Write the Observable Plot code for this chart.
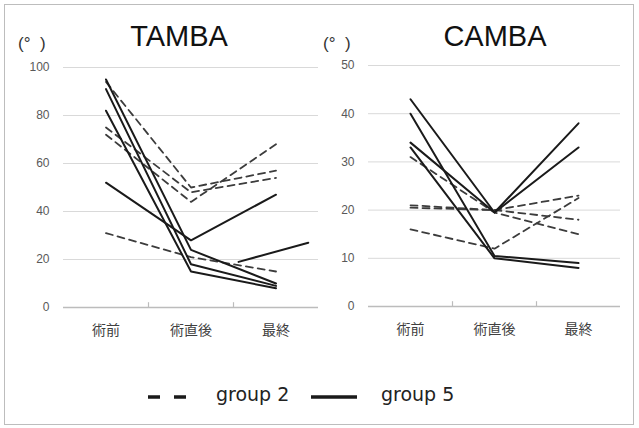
<!DOCTYPE html>
<html><head><meta charset="utf-8">
<script src="https://cdn.jsdelivr.net/npm/d3@7"></script>
<script src="https://cdn.jsdelivr.net/npm/@observablehq/plot@0.6"></script>
<style>
body{margin:0;background:#fff;}
#wrap{position:relative;width:639px;height:428px;overflow:hidden;background:#fff;font-family:"Liberation Sans",Arial,sans-serif;}
#frame{position:absolute;left:4px;top:4px;width:630px;height:421px;border:1.5px solid #bdbdbd;box-sizing:border-box;}
.panel{position:absolute;top:0;}
.title{position:absolute;top:22px;font-size:29px;line-height:29px;color:#111;transform:translateX(-50%);white-space:nowrap;}
.unit{position:absolute;top:34px;font-size:17px;line-height:20px;color:#333;white-space:pre;}
#legend{position:absolute;left:0;top:370px;}
</style></head><body>
<div id="wrap">
  <div id="frame"></div>
  <div id="left" class="panel" style="left:0px"></div>
  <div id="right" class="panel" style="left:319px"></div>
  <div class="title" style="left:179px">TAMBA</div>
  <div class="title" style="left:495px">CAMBA</div>
  <div class="unit" style="left:18px">(°  )</div>
  <div class="unit" style="left:323px">(°  )</div>
  <svg id="legend" width="639" height="50"></svg>
</div>
<script>
// ---- data ----
const stages = ["術前", "術直後", "最終"];
const tambaTicks = [0, 20, 40, 60, 80, 100];
const cambaTicks = [0, 10, 20, 30, 40, 50];
// each row: [術前, 術直後, 最終]
const tambaGroup2 = [[94, 50, 57], [75, 48, 54], [72, 44, 68], [31, 21, 15]];
const tambaGroup5 = [[95, 24, 10], [91, 18, 9], [82, 15, 8], [52, 28, 47]];
// short stray solid segment visible in the TAMBA panel (stage index, value)
const tambaStrayStage = [1.56, 2.38];
const tambaStrayValue = [19, 27];
const cambaGroup2 = [[31, 19.5, 15], [21, 20, 23], [20.5, 20, 18], [16, 12, 22.5]];
const cambaGroup5 = [[43, 19.5, 38], [34, 19.5, 33], [40, 10.5, 9], [33, 10, 8]];
const legendLabels = ["group 2", "group 5"];

function toRows(groups) {
  return groups.flatMap((vals, id) => vals.map((v, i) => ({id, stage: i, value: v})));
}

function panel({g2, g5, stray, yMax, yTicks, tickUp, mLeft, mRight, mTop, mBottom}) {
  const marks = [
    Plot.gridY(yTicks.filter(t => t > 0), {stroke: "#d9d9d9", strokeOpacity: 1, strokeWidth: 1}),
    Plot.ruleY([0], {stroke: "#bcbcbc", strokeWidth: 1.5}),
    Plot.ruleX([0.5, 1.5], {y1: 0, y2: tickUp, stroke: "#bcbcbc", strokeWidth: 1.2}),
    Plot.axisY(yTicks, {tickSize: 0, tickPadding: 14, fontSize: 12, fill: "#595959", label: null, fontFamily: "Liberation Sans, Arial, sans-serif"}),
    Plot.axisX([0, 1, 2], {tickSize: 0, tickPadding: 18, tickFormat: i => stages[i], fontSize: 14, fill: "#404040", label: null, fontFamily: "Noto Sans CJK JP, sans-serif"}),
    Plot.line(toRows(g2), {x: "stage", y: "value", z: "id", stroke: "#3c3c3c", strokeWidth: 1.8, strokeDasharray: "7,5"}),
    Plot.line(toRows(g5), {x: "stage", y: "value", z: "id", stroke: "#1a1a1a", strokeWidth: 2})
  ];
  if (stray) {
    marks.push(Plot.line(stray.stage.map((s, i) => ({stage: s, value: stray.value[i]})),
      {x: "stage", y: "value", stroke: "#1a1a1a", strokeWidth: 2}));
  }
  return Plot.plot({
    width: 320, height: 360,
    marginLeft: mLeft, marginRight: mRight, marginTop: mTop, marginBottom: mBottom,
    x: {type: "linear", domain: [-0.5, 2.5], label: null},
    y: {domain: [0, yMax], label: null},
    style: {background: "transparent", overflow: "visible"},
    marks
  });
}

document.getElementById("left").append(panel({
  g2: tambaGroup2, g5: tambaGroup5, stray: {stage: tambaStrayStage, value: tambaStrayValue},
  yMax: 100, yTicks: tambaTicks, tickUp: 2, mLeft: 63, mRight: 2, mTop: 67, mBottom: 53
}));
document.getElementById("right").append(panel({
  g2: cambaGroup2, g5: cambaGroup5, stray: null,
  yMax: 50, yTicks: cambaTicks, tickUp: 1, mLeft: 49, mRight: 19, mTop: 65, mBottom: 54
}));

// legend
const lg = d3.select("#legend");
lg.append("line").attr("x1", 148).attr("x2", 187).attr("y1", 27).attr("y2", 27)
  .attr("stroke", "#1a1a1a").attr("stroke-width", 3.5).attr("stroke-dasharray", "12,14");
lg.append("text").attr("x", 216).attr("y", 31).text(legendLabels[0])
  .attr("font-family", "DejaVu Sans, sans-serif").attr("font-size", 19).attr("fill", "#222");
lg.append("line").attr("x1", 311).attr("x2", 357).attr("y1", 27).attr("y2", 27)
  .attr("stroke", "#1a1a1a").attr("stroke-width", 3.5);
lg.append("text").attr("x", 381).attr("y", 31).text(legendLabels[1])
  .attr("font-family", "DejaVu Sans, sans-serif").attr("font-size", 19).attr("fill", "#222");
</script>
</body></html>
